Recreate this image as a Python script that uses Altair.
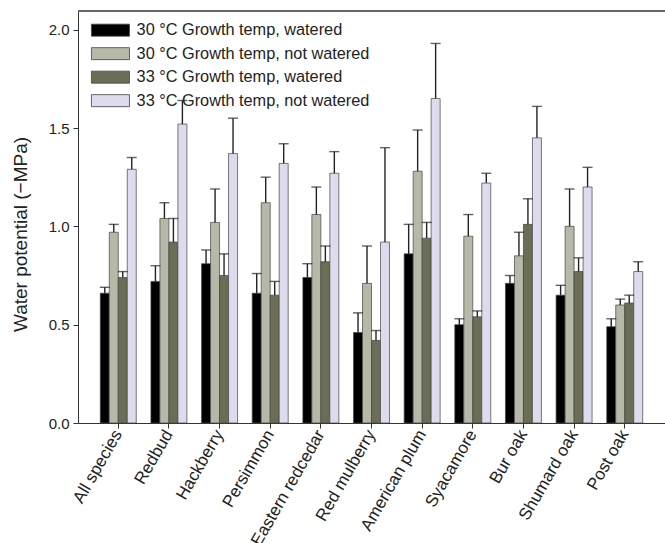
import altair as alt
import pandas as pd

species = ["All species", "Redbud", "Hackberry", "Persimmon", "Eastern redcedar",
           "Red mulberry", "American plum", "Syacamore", "Bur oak", "Shumard oak", "Post oak"]
series = ["30 °C Growth temp, watered", "30 °C Growth temp, not watered",
          "33 °C Growth temp, watered", "33 °C Growth temp, not watered"]
colors = ["#000000", "#b7b9a8", "#6b6d55", "#dddcee"]

w30 = [0.66, 0.72, 0.81, 0.66, 0.74, 0.46, 0.86, 0.50, 0.71, 0.65, 0.49]
w30_err = [0.03, 0.08, 0.07, 0.10, 0.07, 0.10, 0.15, 0.03, 0.04, 0.05, 0.04]
nw30 = [0.97, 1.04, 1.02, 1.12, 1.06, 0.71, 1.28, 0.95, 0.85, 1.00, 0.60]
nw30_err = [0.04, 0.08, 0.17, 0.13, 0.14, 0.19, 0.21, 0.11, 0.12, 0.19, 0.03]
w33 = [0.74, 0.92, 0.75, 0.65, 0.82, 0.42, 0.94, 0.54, 1.01, 0.77, 0.61]
w33_err = [0.03, 0.12, 0.11, 0.07, 0.08, 0.05, 0.08, 0.03, 0.13, 0.07, 0.04]
nw33 = [1.29, 1.52, 1.37, 1.32, 1.27, 0.92, 1.65, 1.22, 1.45, 1.20, 0.77]
nw33_err = [0.06, 0.12, 0.18, 0.10, 0.11, 0.48, 0.28, 0.05, 0.16, 0.10, 0.05]

means = [w30, nw30, w33, nw33]
errs = [w30_err, nw30_err, w33_err, nw33_err]

rows = []
for s, m, e in zip(series, means, errs):
    for sp, v, er in zip(species, m, e):
        rows.append({"species": sp, "series": s, "value": v, "top": round(v + er, 3)})
df = pd.DataFrame(rows)

W, H = 587, 412
x_enc = alt.X("species:N", sort=species,
              scale=alt.Scale(paddingInner=0.29, paddingOuter=0.44),
              axis=alt.Axis(title=None, labelAngle=-60, labelFontSize=17, labelColor="#222",
                            tickSize=5, labelPadding=3, domainColor="#333", tickColor="#333",
                            labelAlign="right", labelBaseline="middle"))
xo_enc = alt.XOffset("series:N", sort=series, scale=alt.Scale(paddingInner=0, paddingOuter=0))
y_scale = alt.Scale(domain=[0, 2.095], nice=False, zero=True)

bars = alt.Chart(df).mark_bar(stroke="#444", strokeWidth=0.7).encode(
    x=x_enc,
    xOffset=xo_enc,
    y=alt.Y("value:Q", scale=y_scale,
            axis=alt.Axis(values=[0, 0.5, 1.0, 1.5, 2.0], format=".1f", labelFontSize=15,
                          labelColor="#222", tickSize=5, labelPadding=4, grid=False,
                          domainColor="#333", tickColor="#333",
                          title="Water potential (−MPa)", titleFontSize=19,
                          titleFontWeight="normal", titleColor="#222",
                          titleAngle=-90, titleX=-58, titleY=223,
                          titleAlign="center", titleBaseline="middle")),
    color=alt.Color("series:N", sort=series,
                    scale=alt.Scale(domain=series, range=colors),
                    legend=alt.Legend(title=None, orient="none", legendX=24.3, legendY=11,
                                      symbolType="M-3.17,-1H3.17V1H-3.17Z", symbolSize=144,
                                      symbolStrokeColor="#444", symbolStrokeWidth=0.8,
                                      labelFontSize=16.3, labelColor="#222", labelOffset=18,
                                      rowPadding=6.5, padding=0, labelLimit=400)),
)

rules = alt.Chart(df).mark_rule(color="#222", strokeWidth=1.4).encode(
    x=alt.X("species:N", sort=species), xOffset=xo_enc,
    y=alt.Y("value:Q", scale=y_scale), y2="top:Q")

caps = alt.Chart(df).mark_tick(color="#222", thickness=1.4, size=10, orient="horizontal").encode(
    x=alt.X("species:N", sort=species), xOffset=xo_enc,
    y=alt.Y("top:Q", scale=y_scale))

topline = alt.Chart(df).mark_rule(color="#666", strokeWidth=1.2).encode(
    x=alt.value(0), x2=alt.value(W), y=alt.value(0))

chart = alt.layer(bars, rules, caps, topline).properties(
    width=W, height=H,
    autosize=alt.AutoSizeParams(type="none"),
    padding={"left": 78, "top": 11, "right": 0, "bottom": 120},
).configure_view(stroke=None).configure(font="Liberation Sans")

chart.save("out.html", embed_options={"renderer": "svg", "actions": False})
